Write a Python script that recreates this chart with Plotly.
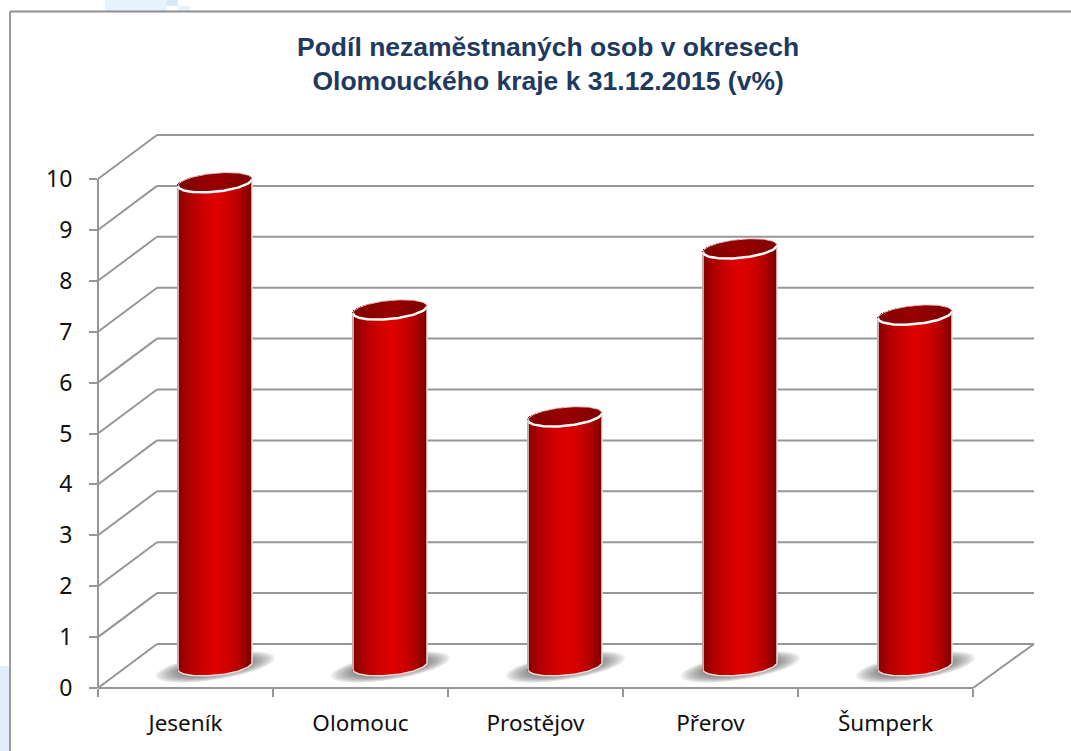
import numpy as np
import plotly.graph_objects as go

districts = ["Jeseník", "Olomouc", "Prostějov", "Přerov", "Šumperk"]
unemployment = [9.5, 7.0, 4.9, 8.2, 6.9]
y_ticks = list(range(0, 11))
title_lines = ["Podíl nezaměstnaných osob v okresech", "Olomouckého kraje k 31.12.2015 (v%)"]

W, H = 1071, 751
LEFT, BOTTOM_PX = 98, 688
PX_X, PX_Y = 175.0, 50.9          # pixels per category / per percent
DX, DY = 59 / PX_X, 44 / PX_Y      # depth of the 3-D box in axis units
DX_R = 61 / PX_X                   # right-hand edge of the box runs a little wider
GREY = "#979797"
RW = 37 / PX_X                     # cylinder half width
RB = 9.3 / PX_Y                    # ellipse half height
SK = 3.5 / PX_Y                    # ellipse tilt


def shade(u, stops):
    xs = [s[0] for s in stops]
    return [
        "rgb(%d,%d,%d)" % tuple(int(round(np.interp(v, xs, [s[1][i] for s in stops]))) for i in range(3))
        for v in u
    ]


BODY = [(-1, (130, 0, 0)), (-0.7, (172, 0, 0)), (-0.3, (206, 0, 0)), (0.05, (222, 0, 0)),
        (0.35, (210, 0, 0)), (0.7, (178, 0, 0)), (1, (126, 0, 0))]
CAP = [(-1, (128, 0, 0)), (0, (152, 0, 0)), (1, (128, 0, 0))]

shapes = []


def line(x0, y0, x1, y1):
    shapes.append(dict(type="line", x0=x0, y0=y0, x1=x1, y1=y1, xref="x", yref="y", layer="below",
                       line=dict(color=GREY, width=2)))


n_cat = len(districts)
for t in y_ticks:
    line(DX, t + DY, n_cat + DX_R, t + DY)
    line(0, t, DX, t + DY)
line(n_cat, 0, n_cat + DX_R, DY)

shapes.append(dict(type="line", xref="paper", x0=0, x1=0, yref="y", y0=-8 / PX_Y, y1=10, layer="below",
                   line=dict(color=GREY, width=2)))
shapes.append(dict(type="line", xref="x", x0=0, x1=n_cat, yref="paper", y0=0, y1=0, layer="below",
                   line=dict(color=GREY, width=2)))

theta = np.linspace(0, 2 * np.pi, 60)
for i in range(n_cat):
    cx = i + 0.5 + DX / 2 + 0.002
    cy = DY / 2 - 1 / PX_Y
    for f in np.linspace(1.0, 0.45, 18):
        xs = cx + f * (60 / PX_X) * np.cos(theta)
        ys = cy + f * (13 / PX_Y) * np.sin(theta) + f * (9 / PX_Y) * np.cos(theta)
        path = "M " + " L ".join(f"{a:.4f} {b:.4f}" for a, b in zip(xs, ys)) + " Z"
        shapes.append(dict(type="path", path=path, xref="x", yref="y", layer="below",
                           fillcolor="rgba(80,80,80,0.065)", line=dict(width=0)))


def paper_x(px):
    return (px - LEFT) / (W - LEFT)


def paper_y(py):
    return (BOTTOM_PX - py) / BOTTOM_PX


for x0, y0, x1, y1, c in [
    (105, 0, 167, 11, "#e6f2fc"), (167, 0, 178, 6, "#d9e8f7"), (178, 6, 190, 11, "#e6f2fc"),
    (0, 666, 9, 751, "#e4eefa"),
]:
    shapes.append(dict(type="rect", xref="paper", yref="paper", x0=paper_x(x0), x1=paper_x(x1),
                       y0=paper_y(y0), y1=paper_y(y1), fillcolor=c, line=dict(width=0), layer="below"))
shapes.append(dict(type="line", xref="paper", yref="paper", x0=paper_x(10), x1=paper_x(W), y0=paper_y(11.5),
                   y1=paper_y(11.5), line=dict(color="#8f8f8f", width=2), layer="below"))
shapes.append(dict(type="line", xref="paper", yref="paper", x0=paper_x(10), x1=paper_x(10), y0=paper_y(11.5),
                   y1=paper_y(H), line=dict(color="#9a9a9a", width=2), layer="below"))

fig = go.Figure()
u = np.linspace(-1, 1, 74, endpoint=False) + 1 / 74
slice_w = 1.0 / PX_X * 1.02
body_colors = shade(u, BODY)
cap_colors = shade(u, CAP)

for i, (name, v) in enumerate(zip(districts, unemployment)):
    cx = i + 0.5 + DX / 2
    cy = DY / 2
    sx = cx + u * RW
    arc = RB * np.sqrt(1 - u ** 2)
    tilt = SK * u
    bottom = cy - arc + tilt
    top_front = cy + v - arc + tilt
    top_back = cy + v + arc + tilt
    fig.add_trace(go.Bar(x=sx, y=top_front - bottom, base=bottom, width=slice_w,
                         marker=dict(color=body_colors, line=dict(width=0)), name=name, showlegend=False))
    fig.add_trace(go.Bar(x=sx, y=top_back - top_front, base=top_front, width=slice_w,
                         marker=dict(color=cap_colors, line=dict(width=0)), name=name, showlegend=False))
    t = np.sin(np.linspace(-np.pi / 2, np.pi / 2, 60))
    fx = cx + t * RW
    a2 = RB * np.sqrt(1 - t ** 2)
    fig.add_trace(go.Scatter(x=fx, y=cy + v - a2 + SK * t, mode="lines", showlegend=False, hoverinfo="skip",
                             line=dict(color="#ffffff", width=2.5)))
    fig.add_trace(go.Scatter(x=fx, y=cy + v + a2 + SK * t, mode="lines", showlegend=False, hoverinfo="skip",
                             line=dict(color="#e6c4c4", width=1)))
    fig.add_trace(go.Scatter(x=fx, y=cy - a2 + SK * t, mode="lines", showlegend=False, hoverinfo="skip",
                             line=dict(color="#f0dcdc", width=1.5)))
    for side in (-1, 1):
        fig.add_trace(go.Scatter(x=[cx + side * RW] * 2, y=[cy + SK * side, cy + v + SK * side], mode="lines",
                                 showlegend=False, hoverinfo="skip", line=dict(color="#e2e2e2", width=1.5)))

fig.add_annotation(text="<b>" + "<br>".join(title_lines) + "</b>", xref="paper", yref="paper",
                   x=paper_x(547.5), y=paper_y(64), xanchor="center", yanchor="middle", showarrow=False,
                   align="center", font=dict(family="Liberation Sans", size=26.5, color="#1f3a60"))

fig.update_layout(
    width=W, height=H, autosize=False, barmode="overlay", bargap=0,
    margin=dict(l=LEFT, r=0, t=0, b=H - BOTTOM_PX, pad=0),
    paper_bgcolor="white", plot_bgcolor="rgba(0,0,0,0)", showlegend=False,
    shapes=shapes,
    font=dict(family="Noto Sans", size=22, color="#111111"),
    xaxis=dict(range=[0, (W - LEFT) / PX_X], tickmode="array",
               tickvals=[k + 0.5 for k in range(n_cat)], ticktext=districts,
               ticks="outside", ticklen=8, tickcolor="rgba(0,0,0,0)", ticklabelstandoff=7,
               showgrid=False, zeroline=False, showline=False,
               minor=dict(tickmode="array", tickvals=list(range(n_cat + 1)), ticks="outside", ticklen=8,
                          tickwidth=2, tickcolor=GREY, showgrid=False),
               tickfont=dict(family="Noto Sans", size=22.5, color="#111111")),
    yaxis=dict(range=[0, BOTTOM_PX / PX_Y], tickmode="array", tickvals=y_ticks,
               ticktext=[str(t) for t in y_ticks], ticks="outside", ticklen=8, tickwidth=2, tickcolor=GREY,
               ticklabelstandoff=12, showgrid=False, zeroline=False, showline=False,
               tickfont=dict(family="Noto Sans", size=23, color="#111111")),
)

fig.write_html("out.html", post_script="document.body.style.margin='0';",
               config=dict(displayModeBar=False))
